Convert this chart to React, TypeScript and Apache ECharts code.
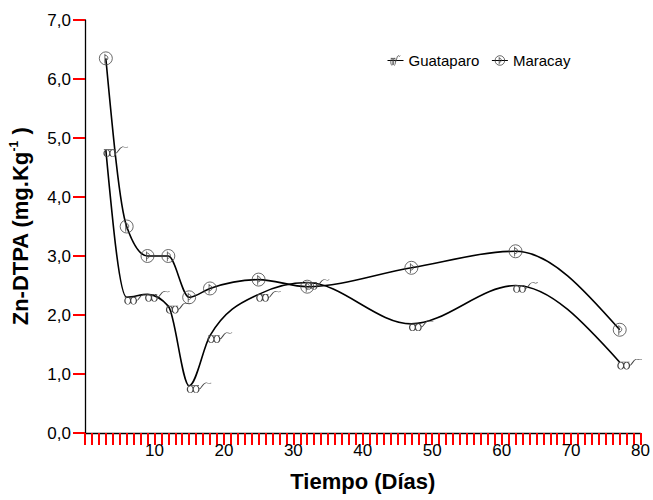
import React, { useEffect, useRef } from "react";
import * as echarts from "echarts";

const days = [3, 6, 9, 12, 15, 18, 25, 32, 47, 62, 77];
const guataparo = [4.8, 2.3, 2.35, 2.15, 0.8, 1.65, 2.35, 2.55, 1.85, 2.5, 1.2];
const maracay = [6.35, 3.5, 3.0, 3.0, 2.3, 2.45, 2.6, 2.48, 2.8, 3.08, 1.75];
const seriesNames = ["Guataparo", "Maracay"];
const xTitle = "Tiempo (Días)";

const glassesPath =
  "path://M0.5,6A2.8,2.5,0,1,1,6.1,6A2.8,2.5,0,1,1,0.5,6Z" +
  "M6.1,6A2.8,2.5,0,1,1,11.7,6A2.8,2.5,0,1,1,6.1,6Z" +
  "M0.3,3.4L11.8,3.4" +
  "M11.7,6C14,6,15,2,18,1.5C20,1,21,2.6,23.6,1.4";
const circlePath =
  "path://M0.5,6A5.5,5.5,0,1,1,11.5,6A5.5,5.5,0,1,1,0.5,6Z" +
  "M5.2,2.2L5.2,10.4M5.2,3.4C8.6,3.4,8.6,8,5.2,8";

const sign = (v: number) => (v < 0 ? -1 : 1);

function slopes(xs: number[], ys: number[]): number[] {
  const n = xs.length;
  const s: number[] = new Array(n).fill(0);
  for (let i = 1; i < n - 1; i++) {
    const h0 = xs[i] - xs[i - 1];
    const h1 = xs[i + 1] - xs[i];
    const s0 = (ys[i] - ys[i - 1]) / h0;
    const s1 = (ys[i + 1] - ys[i]) / h1;
    const p = (s0 * h1 + s1 * h0) / (h0 + h1);
    s[i] = (sign(s0) + sign(s1)) * Math.min(Math.abs(s0), Math.abs(s1), 0.5 * Math.abs(p)) || 0;
  }
  const h0 = xs[1] - xs[0];
  s[0] = (3 * (ys[1] - ys[0]) / h0 - s[1]) / 2;
  const hn = xs[n - 1] - xs[n - 2];
  s[n - 1] = (3 * (ys[n - 1] - ys[n - 2]) / hn - s[n - 2]) / 2;
  return s;
}

function splineSeries(ys: number[], name: string) {
  const sl = slopes(days, ys);
  return {
    type: "custom",
    name: name + "-curve",
    z: 2,
    data: days.map((d, i) => [d, ys[i]]),
    encode: { x: 0, y: 1 },
    renderItem: (params: any, api: any) => {
      if (params.dataIndex !== 0) return null;
      const p0 = api.coord([days[0], ys[0]]);
      let pd = `M${p0[0]},${p0[1]}`;
      for (let i = 0; i < days.length - 1; i++) {
        const hh = days[i + 1] - days[i];
        const c1 = api.coord([days[i] + hh / 3, ys[i] + (sl[i] * hh) / 3]);
        const c2 = api.coord([days[i + 1] - hh / 3, ys[i + 1] - (sl[i + 1] * hh) / 3]);
        const e = api.coord([days[i + 1], ys[i + 1]]);
        pd += `C${c1[0]},${c1[1]},${c2[0]},${c2[1]},${e[0]},${e[1]}`;
      }
      return {
        type: "path",
        shape: { pathData: pd },
        style: { stroke: "#000", lineWidth: 1.6, fill: "none" },
      };
    },
  };
}

export default function App() {
  const ref = useRef<HTMLDivElement>(null);
  useEffect(() => {
    document.body.style.margin = "0";
    const chart = echarts.init(ref.current!, null, { renderer: "svg" });
    const markerStyle = {
      color: "rgba(0,0,0,0)",
      borderColor: "#444",
      borderWidth: 0.8,
    };
    chart.setOption({
      animation: false,
      backgroundColor: "#fff",
      textStyle: { fontFamily: "Liberation Sans, Arial, sans-serif" },
      grid: { left: 85, top: 20, width: 560, height: 413 },
      legend: {
        data: seriesNames,
        left: 387,
        top: 53,
        itemWidth: 16,
        itemHeight: 12,
        itemGap: 12,
        padding: 0,
        textStyle: { fontSize: 15, color: "#000" },
        itemStyle: { color: "rgba(0,0,0,0)", borderColor: "#444", borderWidth: 0.8 },
        lineStyle: { color: "#000", width: 1, opacity: 1 },
      },
      xAxis: {
        type: "value",
        min: 0,
        max: 80,
        interval: 1,
        name: xTitle,
        nameLocation: "middle",
        nameGap: 37,
        nameTextStyle: { fontSize: 22, fontWeight: "bold", color: "#000" },
        axisLine: { show: true, onZero: false, lineStyle: { color: "#000", width: 1.3 } },
        axisTick: { show: true, length: 12, lineStyle: { color: "#f00", width: 2 } },
        axisLabel: {
          fontSize: 17,
          color: "#000",
          margin: 9,
          formatter: (v: number) => (v !== 0 && v % 10 === 0 ? String(v) : ""),
        },
        splitLine: { show: false },
      },
      yAxis: {
        type: "value",
        min: 0,
        max: 7,
        interval: 1,
        name: "Zn-DTPA (mg.Kg{sup|-1} )",
        nameLocation: "middle",
        nameGap: 53,
        nameTextStyle: {
          fontSize: 22,
          fontWeight: "bold",
          color: "#000",
          rich: {
            sup: { fontSize: 12, fontWeight: "bold", color: "#000", padding: [0, 0, 12, 0] },
          },
        },
        axisLine: { show: true, lineStyle: { color: "#000", width: 1.3 } },
        axisTick: { show: true, length: 12, lineStyle: { color: "#f00", width: 2 } },
        axisLabel: {
          fontSize: 17,
          color: "#000",
          margin: 14,
          formatter: (v: number) => v.toFixed(1).replace(".", ","),
        },
        splitLine: { show: false },
      },
      series: [
        splineSeries(guataparo, seriesNames[0]),
        splineSeries(maracay, seriesNames[1]),
        {
          type: "line",
          name: seriesNames[0],
          z: 3,
          data: days.map((d, i) => [d, guataparo[i]]),
          symbol: glassesPath,
          symbolSize: [24, 10],
          symbolOffset: [10, 2],
          showSymbol: true,
          itemStyle: markerStyle,
          lineStyle: { opacity: 0 },
        },
        {
          type: "line",
          name: seriesNames[1],
          z: 3,
          data: days.map((d, i) => [d, maracay[i]]),
          symbol: circlePath,
          symbolSize: 13,
          showSymbol: true,
          itemStyle: markerStyle,
          lineStyle: { opacity: 0 },
        },
      ],
    });
    return () => chart.dispose();
  }, []);
  return <div ref={ref} style={{ width: 653, height: 500 }} />;
}
